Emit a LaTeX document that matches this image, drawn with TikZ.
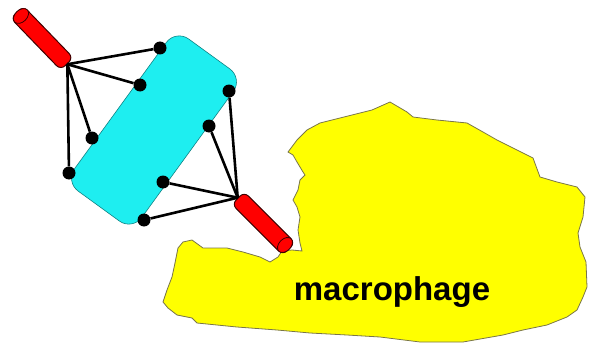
\documentclass[tikz,border=0pt]{standalone}
\usepackage{fontspec}
\setmainfont{Liberation Sans}
\usepackage{tikz}
\usetikzlibrary{shapes.geometric}
\definecolor{cellyellow}{RGB}{255,255,0}
\definecolor{bodycyan}{RGB}{30,238,240}
\tikzset{cell style/.style={
		draw=yellow!40!black,
		line width=0.8pt,
		fill=cellyellow,
	},
	body style/.style={
		draw=bodycyan!55!black,
		line width=0.6pt,
		fill=bodycyan,
		rectangle,
		rounded corners=16pt,
		minimum width=188pt,
		minimum height=83pt,
		inner sep=0pt,
	},
	rod style/.style={
		draw=red!25!black,
		line width=1pt,
		fill=red,
		rectangle,
		rounded corners=6pt,
		minimum width=#1,
		minimum height=17.5pt,
		inner sep=0pt,
	},
	cap style/.style={
		draw=red!25!black,
		line width=0.8pt,
		fill=red,
		ellipse,
		minimum width=12pt,
		minimum height=17.5pt,
		inner sep=0pt,
	},
	dot style/.style={
		fill=black,
		circle,
		minimum size=13pt,
		inner sep=0pt,
	},
	edge style/.style={
		draw=black,
		line width=2.6pt,
	},
	label style/.style={
		text=black,
		font=\bfseries\fontsize{33}{36}\selectfont,
		anchor=base,
	}
}

\begin{document}
\begin{tikzpicture}[x=1pt,y=-1pt]
	\useasboundingbox (0,0) rectangle (589,345);

	\draw[cell style] (288,152) -- (297,140) -- (307,130) -- (320,123) -- (340,118)
		-- (360,113) -- (372,110) -- (390,102) -- (407,112) -- (413,117) -- (437,120)
		-- (467,123) -- (483,132) -- (497,140) -- (517,150) -- (533,158) -- (540,177)
		-- (557,182) -- (577,187) -- (585,197) -- (583,217) -- (578,233) -- (580,247)
		-- (586,262) -- (587,287) -- (583,297) -- (577,310) -- (567,317) -- (547,325)
		-- (523,330) -- (503,335) -- (463,342) -- (420,342) -- (380,337) -- (347,335)
		-- (310,333) -- (277,330) -- (237,327) -- (197,323) -- (192,318) -- (177,315)
		-- (168,308) -- (163,302) -- (167,290) -- (172,277) -- (175,263) -- (178,248)
		-- (183,242) -- (192,240) -- (203,248) -- (227,248) -- (243,252) -- (260,257)
		-- (270,262) -- (278,257) -- (282,251) -- (292,250) -- (302,251) -- (300,243)
		-- (298,230) -- (300,217) -- (297,207) -- (293,200) -- (298,190) -- (300,180)
		-- (305,175) -- (303,172) -- (297,162) -- (293,155) -- cycle;

	\node[label style] (macrophage) at (392,300) {macrophage};

	\node[body style, rotate=54] (body) at (154,130) {};

	\node[rod style=72pt, rotate=134] (rodA) at (42,38) {};
	\node[cap style, rotate=134] (capA) at (21,16) {};
	\node[rod style=72pt, rotate=-45] (rodB) at (263.5,223.5) {};
	\node[cap style, rotate=-45] (capB) at (285,245) {};
	\coordinate (hubA) at (rodA.west);
	\coordinate (hubB) at (rodB.west);

	\node[dot style] (a1) at (160,48) {} edge[edge style] (hubA);
	\node[dot style] (a2) at (140,85) {} edge[edge style] (hubA);
	\node[dot style] (a3) at (92,138) {} edge[edge style] (hubA);
	\node[dot style] (a4) at (69,173) {} edge[edge style] (hubA);

	\node[dot style] (b1) at (229,91) {} edge[edge style] (hubB);
	\node[dot style] (b2) at (209,126) {} edge[edge style] (hubB);
	\node[dot style] (b3) at (163,182) {} edge[edge style] (hubB);
	\node[dot style] (b4) at (144,220) {} edge[edge style] (hubB);
\end{tikzpicture}
\end{document}
